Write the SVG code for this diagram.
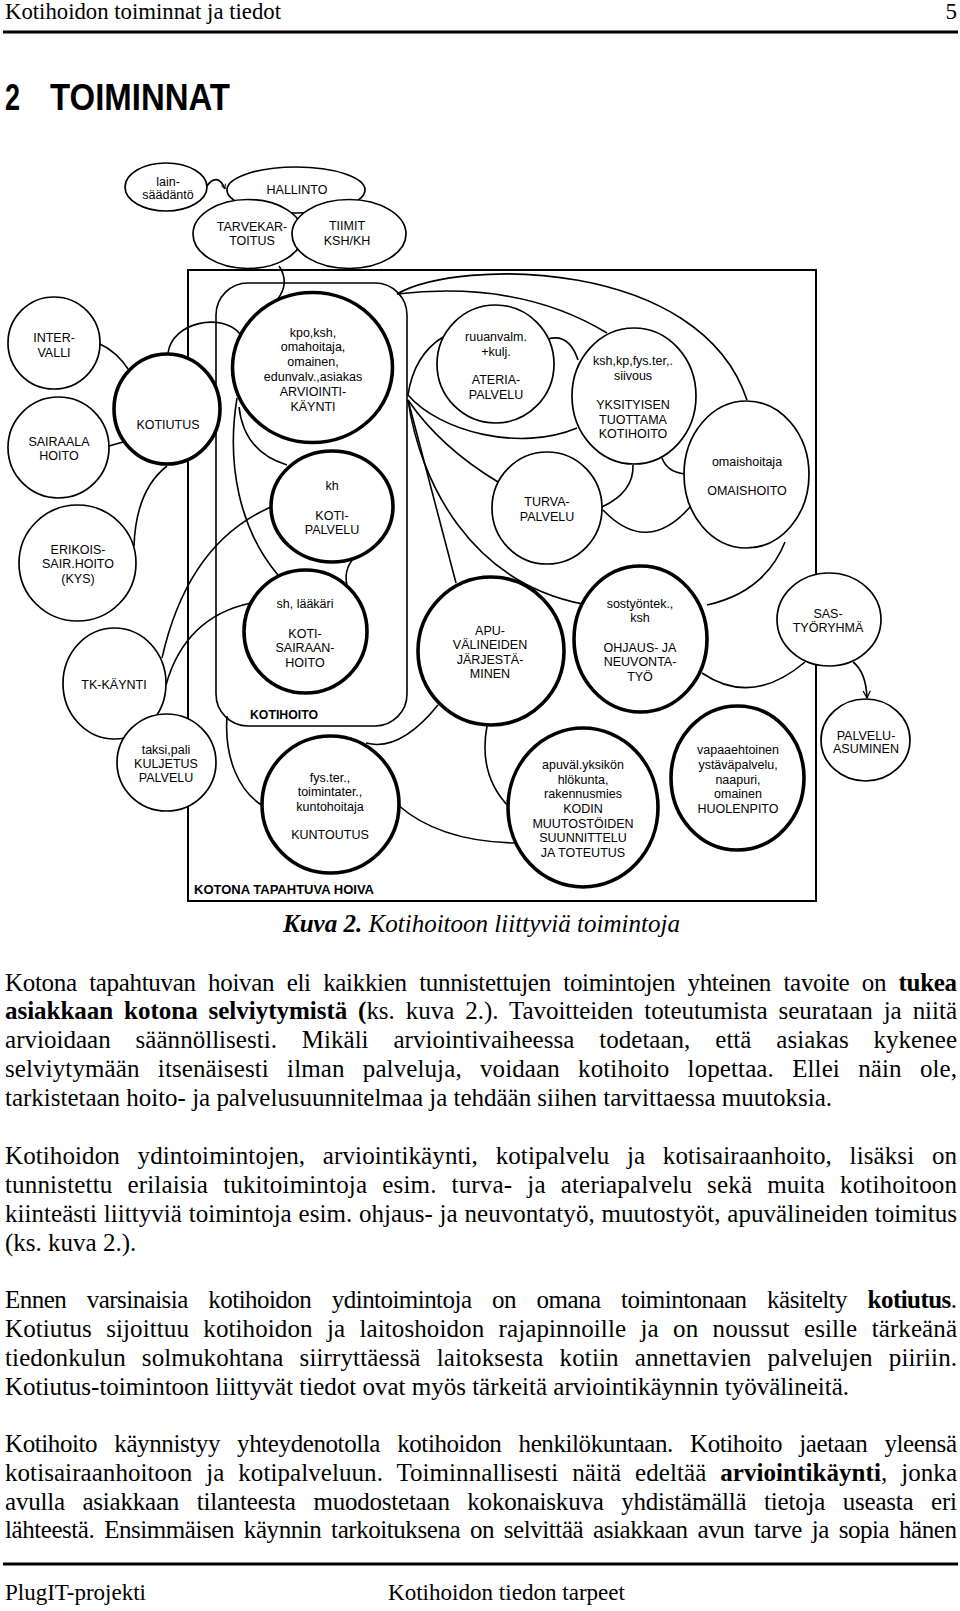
<svg xmlns="http://www.w3.org/2000/svg" width="960" height="1611" viewBox="0 0 960 1611">
<style>
.bg{fill:#fff}
.n{fill:#fff;stroke:#000;stroke-width:1.7}
.k{fill:#fff;stroke:#000;stroke-width:3.6}
.c{fill:none;stroke:#000;stroke-width:1.6}
.fr{fill:none;stroke:#000;stroke-width:2}
.l{font-family:"Liberation Sans",Arial,sans-serif;font-size:12.5px;text-anchor:middle;fill:#000}
.b{font-family:"Liberation Sans",Arial,sans-serif;font-weight:bold;fill:#000}
.s{font-family:"Liberation Serif","Times New Roman",serif;fill:#000}
.p{font-family:"Liberation Serif","Times New Roman",serif;font-size:25px;fill:#000}
</style>
<defs>
<marker id="arr" viewBox="0 0 10 10" refX="9" refY="5" markerWidth="9" markerHeight="9" orient="auto" markerUnits="userSpaceOnUse">
<path d="M1,1 L9,5 L1,9" fill="none" stroke="#000" stroke-width="1.4"/>
</marker>
<marker id="arrs" viewBox="0 0 10 10" refX="9" refY="5" markerWidth="6" markerHeight="6" orient="auto" markerUnits="userSpaceOnUse">
<path d="M1,1 L9,5 L1,9" fill="none" stroke="#000" stroke-width="1.4"/>
</marker>
</defs>
<rect class="bg" x="0" y="0" width="960" height="1611"/>

<g id="header">
<text class="s" x="5" y="19" font-size="23" textLength="276" lengthAdjust="spacingAndGlyphs">Kotihoidon toiminnat ja tiedot</text>
<text class="s" x="957" y="19" font-size="23" text-anchor="end">5</text>
<line x1="3" y1="32" x2="958" y2="32" stroke="#000" stroke-width="3"/>
<text class="b" x="5" y="110" font-size="36" textLength="15" lengthAdjust="spacingAndGlyphs">2</text>
<text class="b" x="50" y="110" font-size="36" textLength="180" lengthAdjust="spacingAndGlyphs">TOIMINNAT</text>
</g>

<g id="frames">
<rect class="fr" x="188" y="270" width="628" height="631"/>
<rect class="c" x="216" y="283" width="191" height="443" rx="32" ry="32"/>
<text class="b" x="250" y="718.5" font-size="12" textLength="68" lengthAdjust="spacingAndGlyphs">KOTIHOITO</text>
<text class="b" x="194" y="893.5" font-size="12.5" textLength="180" lengthAdjust="spacingAndGlyphs">KOTONA TAPAHTUVA HOIVA</text>
</g>

<g id="connectors">
<path class="c" d="M207,186 C213,177 220,177 225,189" marker-end="url(#arrs)"/>
<path class="c" d="M279,266 C287,278 285,290 277,300"/>
<path class="c" d="M168,353 C172,322 222,312 240,334"/>
<path class="c" d="M100,344 Q117,352 128,369"/>
<path class="c" d="M109,446 L123,442"/>
<path class="c" d="M167,466 Q136,490 134,546"/>
<path class="c" d="M271,507 Q188,543 162,658"/>
<path class="c" d="M251,603 Q185,617 166,685"/>
<path class="c" d="M239,407 Q244,452 287,465"/>
<path class="c" d="M237,398 C226,465 240,530 278,575"/>
<path class="c" d="M355,557 Q342,570 348,589"/>
<path class="c" d="M227,716 C224,760 240,792 263,806"/>
<path class="c" d="M438,705 Q400,752 366,743"/>
<path class="c" d="M398,805 Q440,842 517,843"/>
<path class="c" d="M487,726 Q478,775 509,807"/>
<path class="c" d="M408,395 Q414,355 443,337"/>
<path class="c" d="M408,395 C440,432 520,452 577,428"/>
<path class="c" d="M397,294 C460,258 700,258 747,400"/>
<path class="c" d="M397,294 Q520,280 607,333"/>
<path class="c" d="M408,400 Q440,447 498,482"/>
<path class="c" d="M408,400 C420,482 470,582 583,604"/>
<path class="c" d="M408,400 L456,583"/>
<path class="c" d="M633,465 Q634,492 602,507"/>
<path class="c" d="M603,510 Q647,556 690,507"/>
<path class="c" d="M662,458 Q667,472 685,474"/>
<path class="c" d="M548,339 Q569,333 578,360"/>
<path class="c" d="M785,542 Q765,592 707,605"/>
<path class="c" d="M702,673 Q752,707 805,662"/>
<path class="c" d="M853,662 Q866,672 867,698" marker-end="url(#arr)"/>
</g>

<g id="n-lainsaadanto"><ellipse class="n" cx="166" cy="187" rx="41" ry="24"/><text class="l" x="168" y="185.5">lain-</text><text class="l" x="168" y="198.5">säädäntö</text></g>
<g id="n-hallinto"><ellipse class="n" cx="296" cy="190" rx="69" ry="23"/><text class="l" x="297" y="193.5">HALLINTO</text></g>
<g id="n-tarvekartoitus"><ellipse class="n" cx="248" cy="234" rx="55" ry="34.5"/><text class="l" x="252" y="230.5">TARVEKAR-</text><text class="l" x="252" y="245">TOITUS</text></g>
<g id="n-tiimit"><ellipse class="n" cx="349" cy="234" rx="57" ry="34.5"/><text class="l" x="347" y="229.5">TIIMIT</text><text class="l" x="347" y="245">KSH/KH</text></g>

<g id="n-intervalli"><ellipse class="n" cx="54" cy="343" rx="46" ry="46"/><text class="l" x="54" y="341.5">INTER-</text><text class="l" x="54" y="356.5">VALLI</text></g>
<g id="n-sairaala"><ellipse class="n" cx="58.5" cy="447.5" rx="50.5" ry="50.5"/><text class="l" x="59" y="445.5">SAIRAALA</text><text class="l" x="59" y="459.5">HOITO</text></g>
<g id="n-erikois"><ellipse class="n" cx="77.5" cy="563" rx="58.5" ry="58"/><text class="l" x="78" y="553.5">ERIKOIS-</text><text class="l" x="78" y="568">SAIR.HOITO</text><text class="l" x="78" y="582.5">(KYS)</text></g>
<g id="n-kotiutus"><ellipse class="k" cx="167" cy="409" rx="53" ry="55"/><text class="l" x="168" y="428.5">KOTIUTUS</text></g>
<g id="n-tkkaynti"><ellipse class="n" cx="114.5" cy="683.5" rx="51.5" ry="55.5"/><text class="l" x="114" y="688.5">TK-KÄYNTI</text></g>
<g id="n-kuljetus"><ellipse class="n" cx="166.5" cy="762.5" rx="49.5" ry="48.5"/><text class="l" x="166" y="753.5">taksi,pali</text><text class="l" x="166" y="767.5">KULJETUS</text><text class="l" x="166" y="781.5">PALVELU</text></g>

<g id="n-arviointi"><ellipse class="k" cx="312.5" cy="367.5" rx="80" ry="75"/><text class="l" x="313" y="336.5">kpo,ksh,</text><text class="l" x="313" y="351.3">omahoitaja,</text><text class="l" x="313" y="366.1">omainen,</text><text class="l" x="313" y="380.9">edunvalv.,asiakas</text><text class="l" x="313" y="395.7">ARVIOINTI-</text><text class="l" x="313" y="410.5">KÄYNTI</text></g>
<g id="n-kotipalvelu"><ellipse class="k" cx="332" cy="506.5" rx="61" ry="55.5"/><text class="l" x="332" y="489.5">kh</text><text class="l" x="332" y="519.5">KOTI-</text><text class="l" x="332" y="534">PALVELU</text></g>
<g id="n-kotisairaanhoito"><ellipse class="k" cx="305.5" cy="631.5" rx="61.5" ry="61.5"/><text class="l" x="305" y="607.5">sh, lääkäri</text><text class="l" x="305" y="637.5">KOTI-</text><text class="l" x="305" y="652">SAIRAAN-</text><text class="l" x="305" y="666.5">HOITO</text></g>
<g id="n-kuntoutus"><ellipse class="k" cx="330.5" cy="804.5" rx="68.5" ry="68.5"/><text class="l" x="330" y="781.5">fys.ter.,</text><text class="l" x="330" y="795.5">toimintater.,</text><text class="l" x="330" y="810.5">kuntohoitaja</text><text class="l" x="330" y="838.5">KUNTOUTUS</text></g>

<g id="n-ateria"><ellipse class="n" cx="495.5" cy="364" rx="58.5" ry="59"/><text class="l" x="496" y="340.5">ruuanvalm.</text><text class="l" x="496" y="355.5">+kulj.</text><text class="l" x="496" y="383.5">ATERIA-</text><text class="l" x="496" y="398.5">PALVELU</text></g>
<g id="n-yksityisen"><ellipse class="n" cx="634" cy="396" rx="62" ry="68"/><text class="l" x="633" y="364.5">ksh,kp,fys.ter,.</text><text class="l" x="633" y="379.5">siivous</text><text class="l" x="633" y="408.5">YKSITYISEN</text><text class="l" x="633" y="423.5">TUOTTAMA</text><text class="l" x="633" y="437.5">KOTIHOITO</text></g>
<g id="n-omaishoito"><ellipse class="n" cx="746.5" cy="474.5" rx="62.5" ry="73.5"/><text class="l" x="747" y="465.5">omaishoitaja</text><text class="l" x="747" y="494.5">OMAISHOITO</text></g>
<g id="n-turva"><ellipse class="n" cx="547" cy="508" rx="55" ry="56"/><text class="l" x="547" y="505.5">TURVA-</text><text class="l" x="547" y="520.5">PALVELU</text></g>
<g id="n-apuvalineet"><ellipse class="k" cx="491" cy="651" rx="73" ry="74"/><text class="l" x="490" y="634.5">APU-</text><text class="l" x="490" y="649.1">VÄLINEIDEN</text><text class="l" x="490" y="663.7">JÄRJESTÄ-</text><text class="l" x="490" y="678.3">MINEN</text></g>
<g id="n-ohjaus"><ellipse class="k" cx="640.5" cy="639" rx="66.5" ry="73"/><text class="l" x="640" y="607.5">sostyöntek.,</text><text class="l" x="640" y="621.5">ksh</text><text class="l" x="640" y="651.5">OHJAUS- JA</text><text class="l" x="640" y="665.5">NEUVONTA-</text><text class="l" x="640" y="680.5">TYÖ</text></g>
<g id="n-sas"><ellipse class="n" cx="829" cy="619.5" rx="52" ry="46.5"/><text class="l" x="828" y="617.5">SAS-</text><text class="l" x="828" y="631.5">TYÖRYHMÄ</text></g>
<g id="n-palveluasuminen"><ellipse class="n" cx="865.5" cy="740" rx="44.5" ry="41"/><text class="l" x="866" y="739.5">PALVELU-</text><text class="l" x="866" y="752.5">ASUMINEN</text></g>
<g id="n-kodin"><ellipse class="k" cx="583" cy="807.5" rx="75" ry="79.5"/><text class="l" x="583" y="768.5">apuväl.yksikön</text><text class="l" x="583" y="783.5">hlökunta,</text><text class="l" x="583" y="797.5">rakennusmies</text><text class="l" x="583" y="812.5">KODIN</text><text class="l" x="583" y="827.5">MUUTOSTÖIDEN</text><text class="l" x="583" y="841.5">SUUNNITTELU</text><text class="l" x="583" y="856.5">JA TOTEUTUS</text></g>
<g id="n-huolenpito"><ellipse class="k" cx="737.5" cy="778" rx="66.5" ry="72"/><text class="l" x="738" y="753.5">vapaaehtoinen</text><text class="l" x="738" y="768.5">ystäväpalvelu,</text><text class="l" x="738" y="783.5">naapuri,</text><text class="l" x="738" y="797.5">omainen</text><text class="l" x="738" y="812.5">HUOLENPITO</text></g>

<g id="caption">
<text class="s" x="283" y="932" font-size="25" font-style="italic" textLength="397" lengthAdjust="spacingAndGlyphs"><tspan font-weight="bold">Kuva 2.</tspan> Kotihoitoon liittyviä toimintoja</text>
</g>

<g id="body">
<text class="p" x="5" y="990.6" word-spacing="6.5" textLength="952" lengthAdjust="spacing">Kotona tapahtuvan hoivan eli kaikkien tunnistettujen toimintojen yhteinen tavoite on <tspan font-weight="bold">tukea</tspan></text>
<text class="p" x="5" y="1019.4" word-spacing="4.7" textLength="952" lengthAdjust="spacing"><tspan font-weight="bold">asiakkaan kotona selviytymistä (</tspan>ks. kuva 2.). Tavoitteiden toteutumista seurataan ja niitä</text>
<text class="p" x="5" y="1048.2" word-spacing="18.6" textLength="952" lengthAdjust="spacing">arvioidaan säännöllisesti. Mikäli arviointivaiheessa todetaan, että asiakas kykenee</text>
<text class="p" x="5" y="1077" word-spacing="11.9" textLength="952" lengthAdjust="spacing">selviytymään itsenäisesti ilman palveluja, voidaan kotihoito lopettaa. Ellei näin ole,</text>
<text class="p" x="5" y="1105.8" textLength="827" lengthAdjust="spacing">tarkistetaan hoito- ja palvelusuunnitelmaa ja tehdään siihen tarvittaessa muutoksia.</text>

<text class="p" x="5" y="1164.3" word-spacing="11.3" textLength="952" lengthAdjust="spacing">Kotihoidon ydintoimintojen, arviointikäynti, kotipalvelu ja kotisairaanhoito, lisäksi on</text>
<text class="p" x="5" y="1193.1" word-spacing="8.6" textLength="952" lengthAdjust="spacing">tunnistettu erilaisia tukitoimintoja esim. turva- ja ateriapalvelu sekä muita kotihoitoon</text>
<text class="p" x="5" y="1221.9" word-spacing="0.5" textLength="952" lengthAdjust="spacing">kiinteästi liittyviä toimintoja esim. ohjaus- ja neuvontatyö, muutostyöt, apuvälineiden toimitus</text>
<text class="p" x="5" y="1250.7">(ks. kuva 2.).</text>

<text class="p" x="5" y="1308.2" word-spacing="14.9" textLength="952" lengthAdjust="spacing">Ennen varsinaisia kotihoidon ydintoimintoja on omana toimintonaan käsitelty <tspan font-weight="bold">kotiutus</tspan>.</text>
<text class="p" x="5" y="1337" word-spacing="8" textLength="952" lengthAdjust="spacing">Kotiutus sijoittuu kotihoidon ja laitoshoidon rajapinnoille ja on noussut esille tärkeänä</text>
<text class="p" x="5" y="1365.8" word-spacing="9.7" textLength="952" lengthAdjust="spacing">tiedonkulun solmukohtana siirryttäessä laitoksesta kotiin annettavien palvelujen piiriin.</text>
<text class="p" x="5" y="1394.6" textLength="844" lengthAdjust="spacing">Kotiutus-toimintoon liittyvät tiedot ovat myös tärkeitä arviointikäynnin työvälineitä.</text>

<text class="p" x="5" y="1452" word-spacing="11.3" textLength="952" lengthAdjust="spacing">Kotihoito käynnistyy yhteydenotolla kotihoidon henkilökuntaan. Kotihoito jaetaan yleensä</text>
<text class="p" x="5" y="1480.8" word-spacing="7.6" textLength="952" lengthAdjust="spacing">kotisairaanhoitoon ja kotipalveluun. Toiminnallisesti näitä edeltää <tspan font-weight="bold">arviointikäynti</tspan>, jonka</text>
<text class="p" x="5" y="1509.6" word-spacing="11.6" textLength="952" lengthAdjust="spacing">avulla asiakkaan tilanteesta muodostetaan kokonaiskuva yhdistämällä tietoja useasta eri</text>
<text class="p" x="5" y="1538.4" word-spacing="4" textLength="952" lengthAdjust="spacing">lähteestä. Ensimmäisen käynnin tarkoituksena on selvittää asiakkaan avun tarve ja sopia hänen</text>
</g>

<g id="footer">
<line x1="3" y1="1564" x2="958" y2="1564" stroke="#000" stroke-width="3"/>
<text class="s" x="5" y="1600" font-size="23" textLength="141" lengthAdjust="spacingAndGlyphs">PlugIT-projekti</text>
<text class="s" x="388" y="1600" font-size="23" textLength="237" lengthAdjust="spacingAndGlyphs">Kotihoidon tiedon tarpeet</text>
</g>
</svg>
